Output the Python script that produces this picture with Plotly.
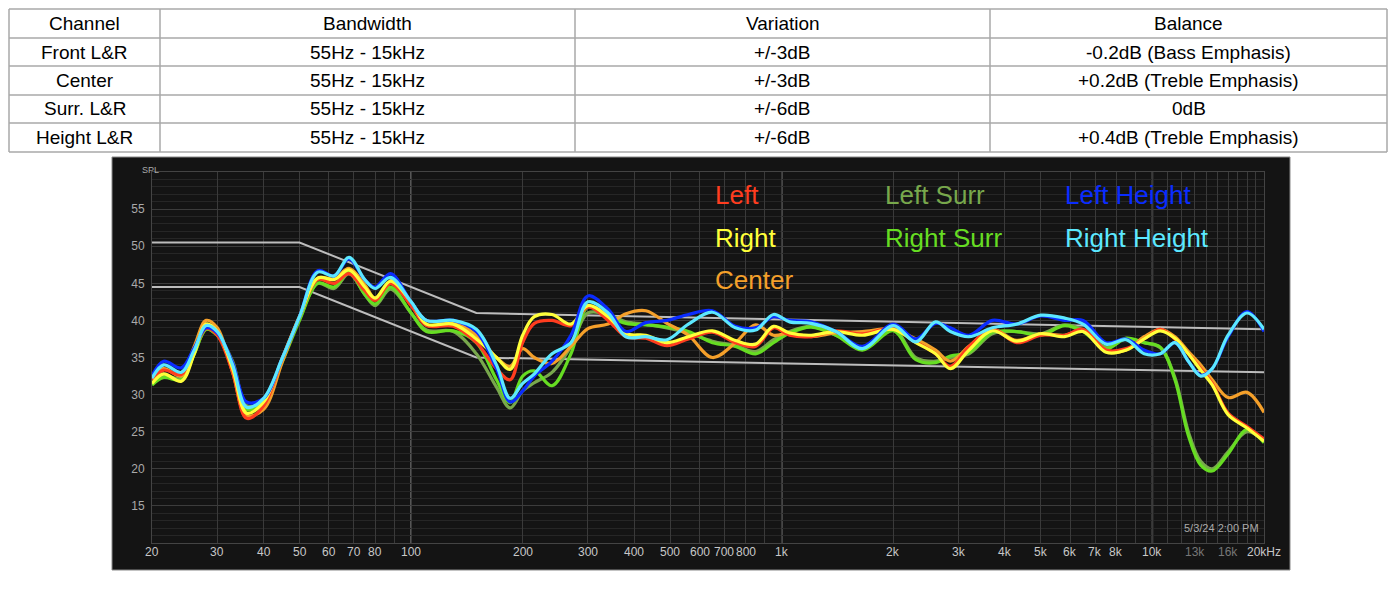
import numpy as np
import plotly.graph_objects as go

# ---------------- table data ----------------
tbl_header = ["Channel", "Bandwidth", "Variation", "Balance"]
tbl_channel = ["Front L&R", "Center", "Surr. L&R", "Height L&R"]
tbl_band = ["55Hz - 15kHz"] * 4
tbl_var = ["+/-3dB", "+/-3dB", "+/-6dB", "+/-6dB"]
tbl_bal = ["-0.2dB (Bass Emphasis)", "+0.2dB (Treble Emphasis)", "0dB", "+0.4dB (Treble Emphasis)"]

# ---------------- response data ----------------
freqs = [20, 21.5, 24, 26, 28, 30, 33, 36, 40, 45, 50, 56, 62, 68, 75, 80, 88, 100, 110, 130, 150,
         170, 185, 200, 215, 240, 270, 300, 340, 380, 430, 490, 560, 650, 750, 850, 950, 1050, 1200,
         1400, 1650, 2000, 2300, 2600, 2850, 3200, 3700, 4300, 5000, 5800, 6500, 7500, 8500, 9500,
         10500, 11500, 12500, 13500, 14500, 16000, 18000, 20000]

left_surr = [31.5, 32.5, 32.2, 35.5, 38.8, 38, 34.5, 28.5, 29.2, 34.8, 40.2, 45, 44.3, 46.3, 43.5, 42, 44.2, 41, 38.7, 38.5, 35.5,
             31, 28.2, 30.5, 31.6, 33, 36.5, 41, 40.8, 39.8, 39.5, 39, 38.3, 37.2, 36.6, 35.8, 37.4, 38.5, 39.2,
             38, 36.4, 38.8, 35, 34.5, 35, 35.5, 38.2, 38.5, 38.2, 39.4, 38.7, 36.4, 37.5, 37,
             36.3, 32.3, 25, 21, 20, 22.3, 25, 23.8]
right_surr = [31.3, 32.3, 32, 35.5, 38.8, 38, 34, 28, 29, 34.5, 40, 45, 44.5, 46.5, 43.5, 42.2, 44.5, 41, 38.5, 38.6, 37,
              32, 28.9, 32.5, 33.2, 31.2, 35.5, 41.8, 40.5, 39.6, 39.4, 39.1, 38.5, 37, 36.5, 35.5, 37, 38.3, 39.1,
              38, 36, 38.6, 34.7, 34.3, 35.2, 35.7, 38.4, 38.5, 38, 39.3, 38.5, 36.2, 37.6, 37,
              36.4, 32, 24.5, 20.5, 19.7, 22, 25.3, 23.5]
center = [32.5, 33.5, 32.5, 36.5, 40, 39, 33, 27.2, 28, 34.5, 40.5, 45.7, 45.6, 47, 44.8, 43, 45, 42.3, 40, 39.8, 38,
          35, 33.8, 36.2, 35, 34.2, 36.5, 38.9, 39.5, 40.9, 41.3, 39.6, 38, 35, 37, 39.4, 38, 38.3, 37.8,
          38.3, 38.5, 38.8, 37.5, 36, 34.5, 36.5, 38.8, 37.3, 38.2, 38, 38.6, 35.8, 36, 37.8,
          38.8, 37.8, 35.8, 34, 32, 29.6, 30.3, 27.6]
left = [32, 33.3, 32.7, 36, 38.9, 38, 33, 26.8, 28.5, 35, 40.5, 45.5, 45, 46.3, 44, 42.7, 45, 42, 39.3, 39.2, 37,
        33.5, 32, 37, 39.6, 40, 39.3, 41.8, 40, 37.8, 37.6, 36.6, 37.5, 38.4, 37, 36.5, 39, 38, 37.8,
        38.6, 38.2, 38.9, 37.1, 35.5, 33.8, 36.5, 38.8, 37, 38, 38, 38.8, 36, 36.2, 37.5,
        38.8, 37.5, 35.5, 33.5, 31.5, 27.5, 25.7, 24]
right = [31.5, 32.8, 31.8, 35.5, 39.5, 38.5, 33.5, 27.5, 29, 35, 40.5, 45.7, 45.5, 46.8, 44.5, 43, 45.3, 42.5, 39.5, 39.5, 37.5,
         35, 33.4, 38, 40.5, 40.8, 39.5, 42, 40.5, 38.2, 38, 37, 37.8, 38.6, 37.3, 36.8, 39.2, 38.3, 38,
         38.5, 38, 38.8, 37, 35.5, 33.5, 36, 38.6, 37.2, 38.2, 37.8, 38.5, 35.7, 36, 37.5,
         38.6, 37.6, 35.5, 33.3, 31.3, 27.3, 25.5, 23.7]
left_height = [32.5, 34.5, 33.6, 36.3, 39, 38.3, 34.3, 29, 29.5, 35, 40.5, 46.7, 46, 48.3, 45.5, 44.5, 46.3, 42.5, 40, 40, 38.5,
               33.5, 29, 30.5, 32.5, 34.5, 38, 43.3, 41.5, 38.5, 39.7, 40, 40.8, 41.3, 39.2, 39, 40.5, 40, 39.8,
               38.5, 36.5, 39.5, 37.5, 39.6, 39, 38, 40, 39.5, 40.6, 40, 40, 37, 37.5, 36,
               35.5, 37, 34.5, 32.6, 33.5, 37.8, 41.2, 38.5]
right_height = [32.2, 34, 33, 36, 39.3, 38.5, 34, 28.3, 29.5, 35, 40.5, 46.5, 46, 48.5, 45.5, 44.3, 45.8, 42.5, 40, 40, 38.8,
                34, 29.5, 31.5, 32.8, 35.5, 37, 42.5, 41, 37.8, 37.8, 37.4, 39.5, 41.1, 39, 38.7, 40.8, 39.8, 39.6,
                38.5, 36.2, 39.3, 37.1, 39.8, 38.5, 37.8, 39, 39.5, 40.7, 40.3, 39.5, 36.8, 37.4, 35.5,
                35.5, 37, 34.5, 32.5, 33.5, 38, 41, 38.8]

target_freqs = [20, 50, 150, 20000]
target_upper = [50.5, 50.5, 41, 38.8]
target_lower = [44.5, 44.5, 35, 33.0]

series_names = ["Left Surr", "Right Surr", "Center", "Left", "Right", "Left Height", "Right Height"]
series_vals = [left_surr, right_surr, center, left, right, left_height, right_height]
series_colors = ["#78a84c", "#66dd22", "#f5a02a", "#ff3d1f", "#ffff3a", "#0a2cff", "#5ce8ff"]

xtick_vals = [20, 30, 40, 50, 60, 70, 80, 100, 200, 300, 400, 500, 600, 700, 800, 1000,
              2000, 3000, 4000, 5000, 6000, 7000, 8000, 10000, 13000, 16000, 20000]
xtick_text = ["20", "30", "40", "50", "60", "70", "80", "100", "200", "300", "400", "500", "600", "700", "800", "1k",
              "2k", "3k", "4k", "5k", "6k", "7k", "8k", "10k", "13k", "16k", "20kHz"]
ytick_vals = [15, 20, 25, 30, 35, 40, 45, 50, 55]

OFF = 8  # default page body margin
W, H = 1400 - 2 * OFF, 591 - 2 * OFF
def px(x): return (x - OFF) / W
def py(y): return 1 - (y - OFF) / H

FONT = "Liberation Sans, Arial"
fig = go.Figure()

for yv in [target_upper, target_lower]:
    fig.add_trace(go.Scatter(x=target_freqs, y=yv, mode="lines",
                             line=dict(color="#bdbdbd", width=2), showlegend=False, hoverinfo="skip"))

for name, vals, col in zip(series_names, series_vals, series_colors):
    fig.add_trace(go.Scatter(x=freqs, y=vals, mode="lines", name=name,
                             line=dict(color=col, width=3.2, shape="spline", smoothing=1.0),
                             showlegend=False))

grid_f = []
for dec in [10, 100, 1000, 10000]:
    for m in range(1, 10):
        f = m * dec
        if 20 <= f <= 20000:
            grid_f.append(f)
grid_f += [11000, 12000, 13000, 14000, 15000, 16000, 17000, 18000, 19000]

shapes = []
annotations = []

# ---- table drawn with shapes/annotations ----
col_edges = [9, 160, 575, 990, 1387]
row_edges = [9, 38, 66, 95, 123, 152]
for xe in col_edges:
    shapes.append(dict(type="line", xref="paper", yref="paper", x0=px(xe), x1=px(xe),
                       y0=py(row_edges[0]), y1=py(row_edges[-1]), line=dict(color="#a8a8a8", width=1.5)))
for ye in row_edges:
    shapes.append(dict(type="line", xref="paper", yref="paper", x0=px(col_edges[0]), x1=px(col_edges[-1]),
                       y0=py(ye), y1=py(ye), line=dict(color="#a8a8a8", width=1.5)))
rows = [tbl_header] + [list(r) for r in zip(tbl_channel, tbl_band, tbl_var, tbl_bal)]
for ri, row in enumerate(rows):
    yc = (row_edges[ri] + row_edges[ri + 1]) / 2
    for ci, txt in enumerate(row):
        xc = (col_edges[ci] + col_edges[ci + 1]) / 2
        annotations.append(dict(x=px(xc), y=py(yc), xref="paper", yref="paper", text=txt, showarrow=False,
                                xanchor="center", yanchor="middle",
                                font=dict(family=FONT, size=19, color="black")))

shapes.append(dict(type="rect", xref="paper", yref="paper", x0=px(112), x1=px(1290), y0=py(570), y1=py(157),
                   fillcolor="#141414", line=dict(color="#888888", width=1), layer="below"))
for f in [100, 1000, 10000]:
    shapes.append(dict(type="line", xref="x", yref="y", x0=f, x1=f, y0=10, y1=60,
                       line=dict(color="#777777", width=1.5), layer="below"))

x0p, x1p = 152, 1264
for v, t in zip(xtick_vals, xtick_text):
    xp = x0p + (x1p - x0p) * np.log10(v / 20) / 3
    col = "#777777" if t in ("13k", "16k") else "#c8c8c8"
    annotations.append(dict(x=px(xp), y=py(552), xref="paper", yref="paper", text=t, showarrow=False,
                            xanchor="center", yanchor="middle",
                            font=dict(family=FONT, size=12, color=col)))
annotations.append(dict(x=px(140), y=py(163), xref="paper", yref="paper", text="SPL", showarrow=False,
                        font=dict(family=FONT, size=9, color="#aaaaaa")))
annotations.append(dict(x=px(1261), y=py(536), xref="paper", yref="paper", text="5/3/24 2:00 PM", showarrow=False,
                        xanchor="right", font=dict(family=FONT, size=11, color="#aaaaaa")))
leg_pos = {"Left": (713, 195), "Right": (713, 238), "Center": (713, 280),
           "Left Surr": (883, 195), "Right Surr": (883, 238),
           "Left Height": (1063, 195), "Right Height": (1063, 238)}
for name, col in zip(series_names, series_colors):
    lx, ly = leg_pos[name]
    annotations.append(dict(x=px(lx), y=py(ly), xref="paper", yref="paper", text=name, showarrow=False,
                            xanchor="left", yanchor="middle",
                            font=dict(family=FONT, size=26, color=col)))

fig.update_layout(
    width=W, height=H, margin=dict(l=0, r=0, t=0, b=0),
    paper_bgcolor="white", plot_bgcolor="#141414",
    shapes=shapes, annotations=annotations, showlegend=False,
    xaxis=dict(type="log", domain=[px(152), px(1264)], range=[np.log10(20), np.log10(20000)],
               tickvals=grid_f, ticktext=[""] * len(grid_f), showgrid=True, gridcolor="#3a3a3a", gridwidth=1,
               zeroline=False, showline=True, linecolor="#444444", mirror=True, ticks=""),
    yaxis=dict(domain=[py(543), py(172)], range=[10, 60], tickvals=ytick_vals,
               tickfont=dict(family=FONT, size=12, color="#aaaaaa"),
               showgrid=True, gridcolor="#3c3c3c", zeroline=False, showline=True, linecolor="#444444",
               mirror=True, ticks="", ticklabelstandoff=4,
               minor=dict(dtick=1, tick0=10, showgrid=True, gridcolor="#262626")),
)

fig.write_html("out.html")
